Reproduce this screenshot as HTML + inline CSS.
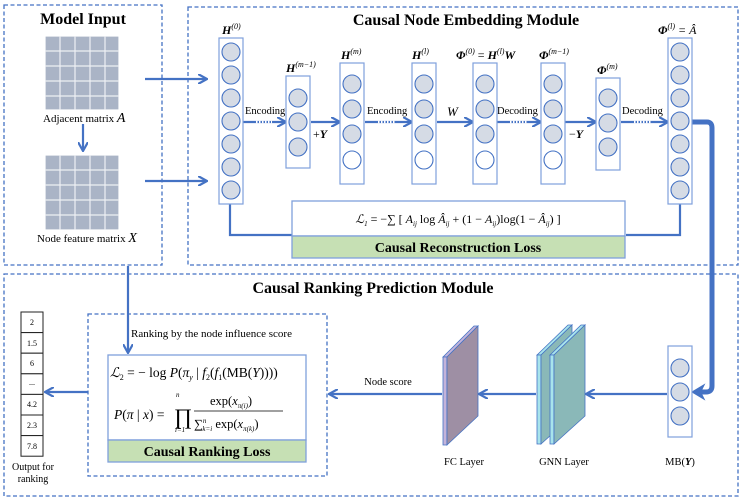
<!DOCTYPE html>
<html><head><meta charset="utf-8"><style>
body{margin:0;background:#fff}
svg{display:block;font-family:"Liberation Serif",serif}
</style></head><body>
<svg width="742" height="499" viewBox="0 0 742 499" xmlns="http://www.w3.org/2000/svg">
<defs>
<marker id="ah" markerWidth="10" markerHeight="10" refX="8" refY="5" orient="auto" markerUnits="userSpaceOnUse">
<path d="M0,0 L9,5 L0,10" fill="none" stroke="#4472c4" stroke-width="2.2"/>
</marker>
<marker id="ah2" markerWidth="12" markerHeight="12" refX="6" refY="6" orient="auto" markerUnits="userSpaceOnUse">
<path d="M0,0 L12,6 L0,12 L3,6z" fill="#4472c4"/>
</marker>
</defs>
<g fill="none" stroke="#4472c4" stroke-width="1.3" stroke-dasharray="4,2.5">
<rect x="4" y="5" width="158" height="260"/>
<rect x="188" y="7" width="550" height="258"/>
<rect x="4" y="274" width="734" height="222"/>
<rect x="88" y="314" width="239" height="162"/>
</g>
<g font-weight="bold" font-size="16" text-anchor="middle" fill="#000">
<text x="83" y="24">Model Input</text>
<text x="466" y="25">Causal Node Embedding Module</text>
<text x="373" y="293">Causal Ranking Prediction Module</text>
</g>
<!-- matrices -->
<g fill="#aab4c6" stroke="#fff" stroke-width="1.2">
<rect x="45" y="36" width="74" height="74"/>
<rect x="45" y="155" width="74" height="75"/>
</g>
<g stroke="#eef0f4" stroke-width="1.2">
<path d="M60 36V110M75 36V110M90 36V110M105 36V110M45 51H119M45 66H119M45 81H119M45 96H119"/>
<path d="M60 155V230M75 155V230M90 155V230M105 155V230M45 170H119M45 185H119M45 200H119M45 215H119"/>
</g>
<text x="43" y="122" font-size="11">Adjacent matrix <tspan font-style="italic" font-size="14">A</tspan></text>
<text x="37" y="242" font-size="11">Node feature matrix <tspan font-style="italic" font-size="14">X</tspan></text>
<g stroke="#4472c4" stroke-width="2.2" fill="none">
<path d="M83 124V150" marker-end="url(#ah)"/>
<path d="M145 79H206" marker-end="url(#ah)"/>
<path d="M145 181H206" marker-end="url(#ah)"/>
<path d="M243 122H285" marker-end="url(#ah)"/>
<path d="M311 122H339" marker-end="url(#ah)"/>
<path d="M365 122H411" marker-end="url(#ah)"/>
<path d="M437 122H472" marker-end="url(#ah)"/>
<path d="M497 122H540" marker-end="url(#ah)"/>
<path d="M565 122H595" marker-end="url(#ah)"/>
<path d="M621 122H667" marker-end="url(#ah)"/>
<path d="M230 204V235H292"/>
<path d="M680 204V235H626"/>
<path d="M128 266V352" marker-end="url(#ah)"/>
<path d="M88 392H46" marker-end="url(#ah)"/>
<path d="M667 394H587" marker-end="url(#ah)"/>
<path d="M536 394H480" marker-end="url(#ah)"/>
<path d="M442 394H330" marker-end="url(#ah)"/>
</g>
<g stroke="#fff" stroke-width="2.4" stroke-dasharray="1.5,1.5">
<path d="M256 122H272M378 122H396M510 122H527M634 122H652"/>
</g>
<path d="M692 122H707Q712 122 712 128V386Q712 392 706 392H700" fill="none" stroke="#4472c4" stroke-width="5"/>
<path d="M693 392L703 386L700 392L703 398Z" fill="#4472c4" stroke="#4472c4" stroke-width="2"/>
<g font-size="10.5" fill="#000">
<text x="245" y="114">Encoding</text>
<text x="367" y="114">Encoding</text>
<text x="497" y="114">Decoding</text>
<text x="622" y="114">Decoding</text>
<text x="313" y="138" font-size="12"><tspan>+</tspan><tspan font-style="italic" font-weight="bold">Y</tspan></text>
<text x="569" y="138" font-size="12"><tspan>−</tspan><tspan font-style="italic" font-weight="bold">Y</tspan></text>
<text x="447" y="116" font-size="13" font-style="italic">W</text>
</g>
<!-- columns -->
<g fill="#fff" stroke="#7fa0dc" stroke-width="1.2">
<rect x="219" y="38" width="24" height="166"/>
<rect x="286" y="76" width="24" height="92"/>
<rect x="340" y="63" width="24" height="121"/>
<rect x="412" y="63" width="24" height="121"/>
<rect x="473" y="63" width="24" height="121"/>
<rect x="541" y="63" width="24" height="121"/>
<rect x="596" y="78" width="24" height="92"/>
<rect x="668" y="38" width="24" height="166"/>
<rect x="668" y="346" width="24" height="91"/>
</g>
<g fill="#d5dbe5" stroke="#4472c4" stroke-width="1.1">
<circle cx="231" cy="52" r="9"/><circle cx="231" cy="75" r="9"/><circle cx="231" cy="98" r="9"/><circle cx="231" cy="121" r="9"/><circle cx="231" cy="144" r="9"/><circle cx="231" cy="167" r="9"/><circle cx="231" cy="190" r="9"/>
<circle cx="680" cy="52" r="9"/><circle cx="680" cy="75" r="9"/><circle cx="680" cy="98" r="9"/><circle cx="680" cy="121" r="9"/><circle cx="680" cy="144" r="9"/><circle cx="680" cy="167" r="9"/><circle cx="680" cy="190" r="9"/>
<circle cx="298" cy="98" r="9"/><circle cx="298" cy="122" r="9"/><circle cx="298" cy="147" r="9"/>
<circle cx="608" cy="98" r="9"/><circle cx="608" cy="123" r="9"/><circle cx="608" cy="147" r="9"/>
<circle cx="680" cy="368" r="9"/><circle cx="680" cy="392" r="9"/><circle cx="680" cy="416" r="9"/>
<circle cx="352" cy="84" r="9"/><circle cx="352" cy="109" r="9"/><circle cx="352" cy="134" r="9"/>
<circle cx="424" cy="84" r="9"/><circle cx="424" cy="109" r="9"/><circle cx="424" cy="134" r="9"/>
<circle cx="485" cy="84" r="9"/><circle cx="485" cy="109" r="9"/><circle cx="485" cy="134" r="9"/>
<circle cx="553" cy="84" r="9"/><circle cx="553" cy="109" r="9"/><circle cx="553" cy="134" r="9"/>
</g>
<g fill="#fff" stroke="#4472c4" stroke-width="1.1">
<circle cx="352" cy="160" r="9"/><circle cx="424" cy="160" r="9"/><circle cx="485" cy="160" r="9"/><circle cx="553" cy="160" r="9"/>
</g>
<g font-size="12" font-style="italic" font-weight="bold" fill="#000">
<text x="222" y="34">H<tspan font-size="8" font-weight="normal" dy="-5">(0)</tspan></text>
<text x="286" y="72">H<tspan font-size="8" font-weight="normal" dy="-5">(m−1)</tspan></text>
<text x="341" y="59">H<tspan font-size="8" font-weight="normal" dy="-5">(m)</tspan></text>
<text x="412" y="59">H<tspan font-size="8" font-weight="normal" dy="-5">(l)</tspan></text>
<text x="456" y="59">Φ<tspan font-size="8" font-weight="normal" dy="-5">(0)</tspan><tspan dy="5" font-weight="normal" font-style="normal"> = </tspan>H<tspan font-size="8" font-weight="normal" dy="-5">(l)</tspan><tspan dy="5">W</tspan></text>
<text x="539" y="59">Φ<tspan font-size="8" font-weight="normal" dy="-5">(m−1)</tspan></text>
<text x="597" y="74">Φ<tspan font-size="8" font-weight="normal" dy="-5">(m)</tspan></text>
<text x="658" y="34">Φ<tspan font-size="8" font-weight="normal" dy="-5">(l)</tspan><tspan dy="5" font-weight="normal"> = Â</tspan></text>
</g>
<!-- reconstruction loss -->
<rect x="292" y="201" width="333" height="35" fill="#fff" stroke="#7fa0dc" stroke-width="1.3"/>
<rect x="292" y="236" width="333" height="22" fill="#c6e0b4" stroke="#7fa0dc" stroke-width="1.3"/>
<text x="458" y="223" font-size="12" text-anchor="middle" font-style="italic">ℒ<tspan font-size="7" dy="3">1</tspan><tspan dy="-3" font-style="normal"> = −∑ [ </tspan>A<tspan font-size="7" dy="3">ij</tspan><tspan dy="-3" font-style="normal"> log </tspan>Â<tspan font-size="7" dy="3">ij</tspan><tspan dy="-3" font-style="normal"> + (1 − </tspan>A<tspan font-size="7" dy="3">ij</tspan><tspan dy="-3" font-style="normal">)log(1 − </tspan>Â<tspan font-size="7" dy="3">ij</tspan><tspan dy="-3" font-style="normal">) ]</tspan></text>
<text x="458" y="252" font-size="14" font-weight="bold" text-anchor="middle">Causal Reconstruction Loss</text>
<!-- ranking loss -->
<text x="131" y="337" font-size="11">Ranking by the node influence score</text>
<rect x="108" y="355" width="198" height="85" fill="#fff" stroke="#7fa0dc" stroke-width="1.3"/>
<rect x="108" y="440" width="198" height="22" fill="#c6e0b4" stroke="#7fa0dc" stroke-width="1.3"/>
<text x="110" y="377" font-size="13.5" font-style="italic">ℒ<tspan font-size="8" dy="3" font-style="normal">2</tspan><tspan dy="-3" font-style="normal"> = − log </tspan>P<tspan font-style="normal">(</tspan>π<tspan font-size="8" dy="3">y</tspan><tspan dy="-3" font-style="normal"> | </tspan>f<tspan font-size="8" dy="3" font-style="normal">2</tspan><tspan dy="-3" font-style="normal">(</tspan>f<tspan font-size="8" dy="3" font-style="normal">1</tspan><tspan dy="-3" font-style="normal">(MB(</tspan>Y<tspan font-style="normal">))))</tspan></text>
<text x="114" y="419" font-size="13.5" font-style="italic">P<tspan font-style="normal">(</tspan>π<tspan font-style="normal"> | </tspan>x<tspan font-style="normal">) =</tspan></text>
<text x="174" y="424" font-size="22">∏</text>
<text x="176" y="397" font-size="7" font-style="italic">n</text>
<text x="175" y="432" font-size="7" font-style="italic">i=1</text>
<text x="210" y="405" font-size="12.5">exp(<tspan font-style="italic">x</tspan><tspan font-size="7" dy="3" font-style="italic">π(i)</tspan><tspan dy="-3">)</tspan></text>
<line x1="194" y1="411" x2="283" y2="411" stroke="#000" stroke-width="0.8"/>
<text x="194" y="428" font-size="12.5">∑<tspan font-size="7" dy="-5" font-style="italic">n</tspan><tspan font-size="7" dy="8" dx="-4" font-style="italic">k=i</tspan><tspan dy="-3"> exp(</tspan><tspan font-style="italic">x</tspan><tspan font-size="7" dy="3" font-style="italic">π(k)</tspan><tspan dy="-3">)</tspan></text>
<text x="207" y="456" font-size="14" font-weight="bold" text-anchor="middle">Causal Ranking Loss</text>
<!-- output column -->
<g fill="#fff" stroke="#222" stroke-width="1">
<rect x="21" y="312" width="22" height="20.6"/><rect x="21" y="332.6" width="22" height="20.6"/><rect x="21" y="353.2" width="22" height="20.6"/><rect x="21" y="373.8" width="22" height="20.6"/><rect x="21" y="394.4" width="22" height="20.6"/><rect x="21" y="415" width="22" height="20.6"/><rect x="21" y="435.6" width="22" height="20.6"/>
</g>
<g font-size="8" text-anchor="middle">
<text x="32" y="325">2</text><text x="32" y="346">1.5</text><text x="32" y="366">6</text><text x="32" y="385">...</text><text x="32" y="407">4.2</text><text x="32" y="428">2.3</text><text x="32" y="449">7.8</text>
<text x="33" y="470" font-size="10">Output for</text><text x="33" y="482" font-size="10">ranking</text>
</g>
<!-- layers -->
<g stroke="#4472c4" stroke-width="0.8">
<path d="M443 357L474 326L478 326L447 357Z" fill="#c4b4da"/>
<path d="M443 357H447V445H443Z" fill="#c4b4da"/>
<path d="M447 357L478 326V416L447 445Z" fill="#9e8fa4"/>
<path d="M537 355L568 325L572 325L541 355Z" fill="#a8e4ec"/>
<path d="M537 355H541V444H537Z" fill="#a8e4ec"/>
<path d="M541 355L572 325V416L541 444Z" fill="#8ab8b8"/>
<path d="M550 355L581 325L585 325L554 355Z" fill="#a8e4ec"/>
<path d="M550 355H554V444H550Z" fill="#a8e4ec"/>
<path d="M554 355L585 325V416L554 444Z" fill="#8ab8b8"/>
</g>
<g font-size="10.5" text-anchor="middle">
<text x="388" y="385">Node score</text>
<text x="464" y="465">FC Layer</text>
<text x="564" y="465">GNN Layer</text>
<text x="680" y="465">MB(<tspan font-style="italic" font-weight="bold">Y</tspan>)</text>
</g>
</svg>
</body></html>
